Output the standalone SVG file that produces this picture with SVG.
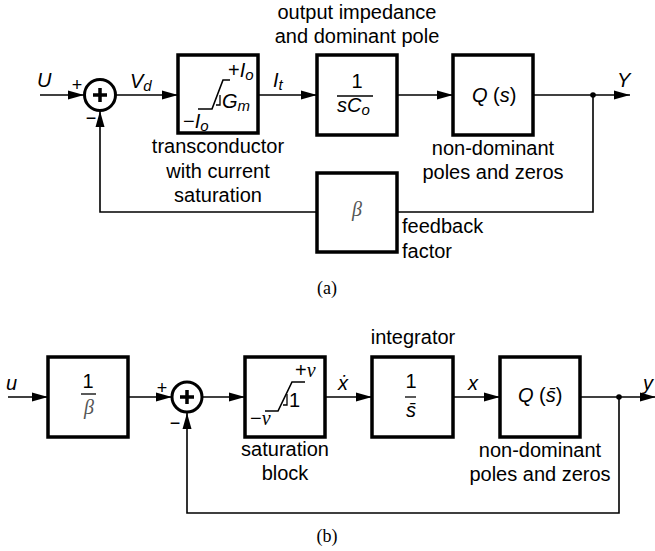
<svg xmlns="http://www.w3.org/2000/svg" width="655" height="551" viewBox="0 0 655 551">
<defs>
<marker id="ah" markerUnits="userSpaceOnUse" markerWidth="16" markerHeight="9" refX="16" refY="4.5" orient="auto" overflow="visible">
<path d="M0,0 L16,4.5 L0,9 z" fill="#000"/>
</marker>
<style>
.blk{fill:#fff;stroke:#000;stroke-width:3.5}
.sum{fill:#fff;stroke:#000;stroke-width:3}
.plus{stroke:#000;stroke-width:3.5;fill:none}
.ln{fill:none;stroke:#000;stroke-width:1.6}
.ar{fill:none;stroke:#000;stroke-width:1.6;marker-end:url(#ah)}
.thin{fill:none;stroke:#000;stroke-width:1.3}
text{font-family:"Liberation Sans",Arial,sans-serif;font-size:20px;fill:#000}
.c{text-anchor:middle}
.i{font-style:italic}
.sub{font-size:15px;font-style:italic}
.sg{font-size:18px}
.gr{font-family:"Liberation Serif","Times New Roman",serif;font-style:italic;fill:#555}
.nu{font-family:"Liberation Serif","Times New Roman",serif;font-style:italic}
.cap{font-family:"Liberation Serif","Times New Roman",serif;font-size:18px}
</style>
</defs>

<!-- ===== (a) ===== -->
<g id="connectors-a">
<path class="ar" d="M40,95 H84"/>
<path class="ar" d="M116,95 H178"/>
<path class="ar" d="M258,95 H317"/>
<path class="ar" d="M397,95 H453"/>
<path class="ar" d="M533,95 H630"/>
<path class="ln" d="M593,95 V212 H397"/>
<path class="ar" d="M317,212 H100 V111"/>
<circle cx="593" cy="95" r="2.8" fill="#000"/>
</g>

<g id="input-U">
<text class="i" x="37" y="87">U</text>
</g>

<g id="sum-a">
<circle class="sum" cx="100" cy="95" r="15.5"/>
<path class="plus" d="M93,95 H107 M100,88 V102"/>
<text class="sg c" x="77" y="91">+</text>
<text class="sg c" x="91" y="124">−</text>
</g>

<g id="label-Vd">
<text x="130" y="88"><tspan class="i">V</tspan><tspan class="sub" dy="3">d</tspan></text>
</g>

<g id="transconductor">
<rect class="blk" x="178" y="55" width="80" height="78"/>
<path class="ln" d="M198,109 H212 L223,80 H230"/>
<path class="thin" d="M216,105 H220 V95"/>
<text x="228" y="77">+<tspan class="i">I</tspan><tspan class="sub" dy="3">o</tspan></text>
<text x="222" y="108"><tspan class="i">G</tspan><tspan class="sub" dy="3">m</tspan></text>
<text x="183" y="128">−<tspan class="i">I</tspan><tspan class="sub" dy="3">o</tspan></text>
<text class="c" x="218" y="153">transconductor</text>
<text class="c" x="218" y="178">with current</text>
<text class="c" x="218" y="202">saturation</text>
</g>

<g id="label-It">
<text x="273" y="87"><tspan class="i">I</tspan><tspan class="sub" dy="3">t</tspan></text>
</g>

<g id="output-impedance">
<rect class="blk" x="317" y="55" width="80" height="80"/>
<text class="c" x="357" y="88">1</text>
<path class="thin" d="M337,96 H373"/>
<text x="337" y="112"><tspan class="i">sC</tspan><tspan class="sub" dy="3">o</tspan></text>
<text class="c" x="357" y="19">output impedance</text>
<text class="c" x="357" y="43">and dominant pole</text>
</g>

<g id="Qs">
<rect class="blk" x="453" y="55" width="80" height="80"/>
<text x="472" y="102"><tspan class="i">Q</tspan> (<tspan class="i">s</tspan>)</text>
<text class="c" x="493" y="155">non-dominant</text>
<text class="c" x="493" y="179">poles and zeros</text>
</g>

<g id="output-Y">
<text class="i" x="617" y="87">Y</text>
</g>

<g id="beta">
<rect class="blk" x="317" y="173" width="80" height="79"/>
<text class="gr c" x="357" y="216">β</text>
<text x="402" y="233">feedback</text>
<text x="402" y="258">factor</text>
</g>

<text class="cap c" x="327" y="294">(a)</text>

<!-- ===== (b) ===== -->
<g id="connectors-b">
<path class="ar" d="M8,397 H48"/>
<path class="ar" d="M128,397 H172"/>
<path class="ar" d="M202,397 H245"/>
<path class="ar" d="M325,397 H372"/>
<path class="ar" d="M453,397 H500"/>
<path class="ar" d="M580,397 H656"/>
<path class="ar" d="M619,397 V513 H187 V413"/>
<circle cx="619" cy="397" r="2.8" fill="#000"/>
</g>

<g id="input-u">
<text class="i" x="6" y="390">u</text>
</g>

<g id="inv-beta">
<rect class="blk" x="48" y="357" width="80" height="80"/>
<text class="c" x="88" y="388">1</text>
<path class="thin" d="M81,394 H96"/>
<text class="gr c" x="89" y="414">β</text>
</g>

<g id="sum-b">
<circle class="sum" cx="187" cy="397" r="15"/>
<path class="plus" d="M180,397 H194 M187,390 V404"/>
<text class="sg c" x="162" y="394">+</text>
<text class="sg c" x="175" y="429">−</text>
</g>

<g id="saturation">
<rect class="blk" x="245" y="357" width="80" height="80"/>
<path class="ln" d="M265,411 H278 L292,382 H305"/>
<path class="thin" d="M283,405 H287 V394"/>
<text x="295" y="377">+<tspan class="nu">ν</tspan></text>
<text x="289" y="407">1</text>
<text x="250" y="425">−<tspan class="nu">ν</tspan></text>
<text class="c" x="285" y="456">saturation</text>
<text class="c" x="285" y="480">block</text>
</g>

<g id="label-xdot">
<text class="i" x="338" y="390">ẋ</text>
</g>

<g id="integrator">
<rect class="blk" x="372" y="357" width="81" height="80"/>
<text class="c" x="411" y="388">1</text>
<path class="thin" d="M405,397 H416"/>
<text class="i c" x="411" y="417">s̄</text>
<text class="c" x="413" y="344">integrator</text>
</g>

<g id="label-x">
<text class="i" x="468" y="390">x</text>
</g>

<g id="Qsbar">
<rect class="blk" x="500" y="357" width="80" height="80"/>
<text x="518" y="402"><tspan class="i">Q</tspan> (<tspan class="i">s̄</tspan>)</text>
<text class="c" x="540" y="457">non-dominant</text>
<text class="c" x="540" y="481">poles and zeros</text>
</g>

<g id="output-y">
<text class="i" x="643" y="390">y</text>
</g>

<text class="cap c" x="327" y="542">(b)</text>
</svg>
